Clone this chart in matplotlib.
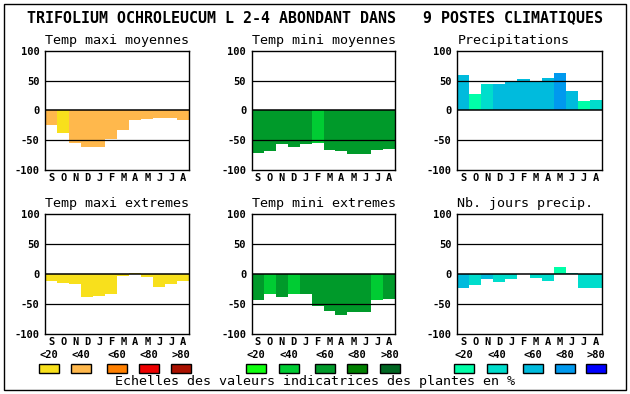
import matplotlib.pyplot as plt
from matplotlib.patches import Rectangle

months = ["S", "O", "N", "D", "J", "F", "M", "A", "M", "J", "J", "A"]

titles = ["Temp maxi moyennes", "Temp mini moyennes", "Precipitations",
          "Temp maxi extremes", "Temp mini extremes", "Nb. jours precip."]

tmax_moy = [-25, -38, -54, -61, -61, -48, -33, -16, -14, -12, -13, -16]
tmin_moy = [-71, -68, -57, -61, -57, -54, -66, -68, -73, -73, -66, -64]
precip = [60, 27, 45, 44, 47, 52, 47, 55, 63, 32, 15, 17]
tmax_ext = [-11, -15, -16, -38, -37, -33, -4, 2, -5, -22, -16, -11]
tmin_ext = [-43, -34, -38, -34, -34, -54, -61, -68, -64, -63, -44, -41]
jours = [-24, -18, -8, -14, -8, 0, -6, -11, 12, 2, -23, -23]

# classe de couleur (0..4) de chaque barre
cls_tmax_moy = [1, 0, 1, 1, 1, 1, 1, 1, 1, 1, 1, 1]
cls_tmin_moy = [2, 2, 2, 2, 2, 1, 2, 2, 2, 2, 2, 2]
cls_precip = [2, 0, 1, 2, 2, 2, 2, 2, 3, 2, 0, 1]
cls_tmax_ext = [0] * 12
cls_tmin_ext = [2, 1, 2, 1, 2, 2, 2, 2, 2, 2, 1, 2]
cls_jours = [2, 1, 2, 1, 1, 1, 1, 1, 0, 1, 1, 1]

scale_labels = ["<20", "<40", "<60", "<80", ">80"]
warm = ["#F8E01C", "#FFB84C", "#FF8000", "#EE0000", "#AA1100"]
green = ["#10FF10", "#00CC33", "#009A2A", "#008000", "#006622"]
blue = ["#00FFA8", "#00DDCC", "#00BBDD", "#0099EE", "#0000FF"]

panels = [
    (tmax_moy, cls_tmax_moy, warm),
    (tmin_moy, cls_tmin_moy, green),
    (precip, cls_precip, blue),
    (tmax_ext, cls_tmax_ext, warm),
    (tmin_ext, cls_tmin_ext, green),
    (jours, cls_jours, blue),
]

W, H = 630, 394
fig = plt.figure(figsize=(W / 100, H / 100), dpi=100)
mono = "DejaVu Sans Mono"
small = 7.5

def px(x0, y0, x1, y1):
    return [x0 / W, 1 - y1 / H, (x1 - x0) / W, (y1 - y0) / H]

# cadre
fig.add_artist(Rectangle((4 / W, 1 - 390 / H), 622 / W, 386 / H,
                         transform=fig.transFigure, fill=False,
                         edgecolor="black", lw=1))

fig.text(315 / W, 1 - 18 / H,
         "TRIFOLIUM OCHROLEUCUM L 2-4 ABONDANT DANS   9 POSTES CLIMATIQUES",
         family=mono, weight="bold", fontsize=10.8, ha="center", va="center")

cols = [(45.3, 189.3), (251.7, 395.3), (457.3, 601.7)]
rows = [(50.7, 170), (214, 334)]

for i, (vals, cls, pal) in enumerate(panels):
    r, c = divmod(i, 3)
    x0, x1 = cols[c]
    y0, y1 = rows[r]
    ax = fig.add_axes(px(x0, y0, x1, y1))
    ax.bar(range(12), vals, width=1, align="edge",
           color=[pal[k] for k in cls], linewidth=0, zorder=1)
    for yv in (50, 0, -50):
        ax.axhline(yv, color="black", lw=1.1 if yv == 0 else 0.9, zorder=3)
    ax.set_xlim(0, 12)
    ax.set_ylim(-100, 100)
    ax.set_yticks([100, 50, 0, -50, -100])
    ax.set_yticklabels(["100", "50", "0", "-50", "-100"])
    ax.set_xticks([k + 0.5 for k in range(12)])
    ax.set_xticklabels(months)
    ax.tick_params(length=0, labelsize=small, pad=2)
    ax.tick_params(axis="y", pad=4)
    for lab in ax.get_xticklabels() + ax.get_yticklabels():
        lab.set_family(mono)
        lab.set_weight("bold")
    for s in ax.spines.values():
        s.set_linewidth(1)
    ax.text(0, 1.035, titles[i], transform=ax.transAxes, family=mono,
            fontsize=9.6, ha="left", va="bottom")

# legende des echelles
legend_x = [[39, 71, 107, 139, 171], [246, 279, 315, 347, 380],
            [454, 487, 523, 555, 586]]
for pal, xs in zip([warm, green, blue], legend_x):
    for lab, col, xb in zip(scale_labels, pal, xs):
        fig.add_artist(Rectangle((xb / W, 1 - 373 / H), 20 / W, 9 / H,
                                 transform=fig.transFigure, facecolor=col,
                                 edgecolor="black", lw=1))
        fig.text((xb + 10) / W, 1 - 355 / H, lab, family=mono,
                 weight="bold", fontsize=small, ha="center", va="center")

fig.text(315 / W, 1 - 382 / H,
         "Echelles des valeurs indicatrices des plantes en %",
         family=mono, fontsize=9.6, ha="center", va="center")

fig.savefig("out.png", dpi=100)
